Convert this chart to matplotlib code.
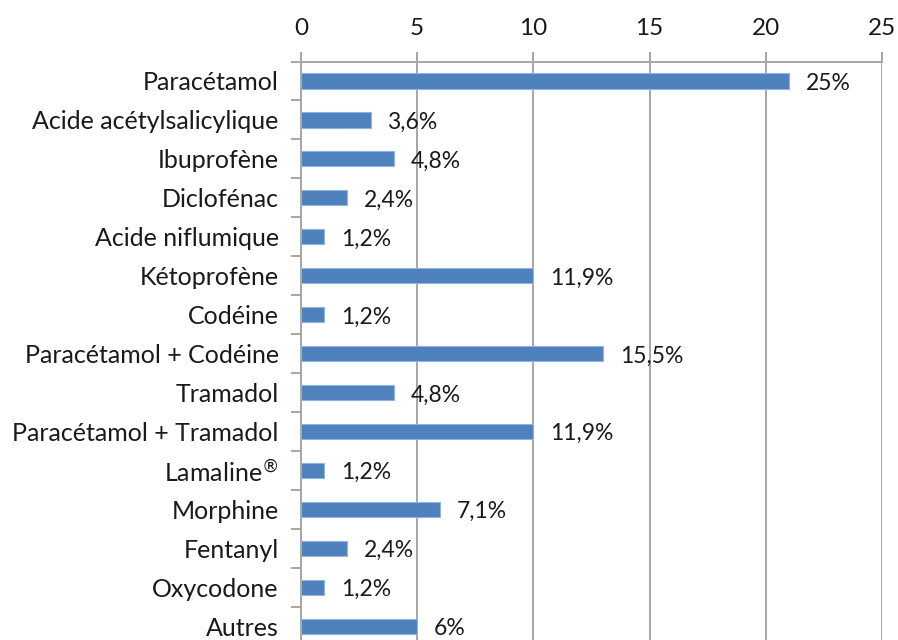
import matplotlib
matplotlib.use("Agg")
import matplotlib.pyplot as plt

categories = ["Paracétamol", "Acide acétylsalicylique", "Ibuprofène", "Diclofénac",
              "Acide niflumique", "Kétoprofène", "Codéine", "Paracétamol + Codéine",
              "Tramadol", "Paracétamol + Tramadol", r"Lamaline$^{\circledR}$", "Morphine",
              "Fentanyl", "Oxycodone", "Autres"]
counts = [21, 3, 4, 2, 1, 10, 1, 13, 4, 10, 1, 6, 2, 1, 5]
pct_labels = ["25%", "3,6%", "4,8%", "2,4%", "1,2%", "11,9%", "1,2%", "15,5%",
              "4,8%", "11,9%", "1,2%", "7,1%", "2,4%", "1,2%", "6%"]
x_ticks = [0, 5, 10, 15, 20, 25]

plt.rcParams['font.family'] = ['Lato', 'DejaVu Sans']
plt.rcParams['mathtext.fontset'] = 'dejavusans'

fig = plt.figure(figsize=(8.98, 6.4), dpi=100)
ax = fig.add_axes([0.3352, -0.0089, 0.647, 0.9128])

ypos = list(range(len(categories)))
ax.barh(ypos, counts, height=0.39, color="#4F81BD", edgecolor="#8EB4E3",
        linewidth=0.8, zorder=3)

for y, v, lab in zip(ypos, counts, pct_labels):
    ax.text(v + 0.72, y + 0.06, lab, va="center", ha="left", fontsize=16.5,
            color="#1a1a1a", zorder=4)

ax.set_xlim(0, 25)
ax.set_ylim(len(categories) - 0.5, -0.5)
ax.set_xticks(x_ticks)
ax.xaxis.tick_top()
ax.set_yticks(ypos)
ax.set_yticklabels(categories)
ax.set_yticks([i + 0.5 for i in range(-1, len(categories))], minor=True)

ax.grid(axis="x", color="#A6A6A6", linewidth=1.4, zorder=0)
ax.tick_params(axis="x", which="major", length=7, width=1.4, color="#A6A6A6",
               labelsize=17.5, pad=9, labelcolor="#1a1a1a")
ax.tick_params(axis="y", which="major", length=0, labelsize=18, pad=16,
               labelcolor="#1a1a1a")
ax.tick_params(axis="y", which="minor", length=7, width=1.4, color="#A6A6A6")

for side in ["right", "bottom"]:
    ax.spines[side].set_visible(False)
for side in ["left", "top"]:
    ax.spines[side].set_color("#A6A6A6")
    ax.spines[side].set_linewidth(1.4)

fig.savefig("out.png", dpi=100)
